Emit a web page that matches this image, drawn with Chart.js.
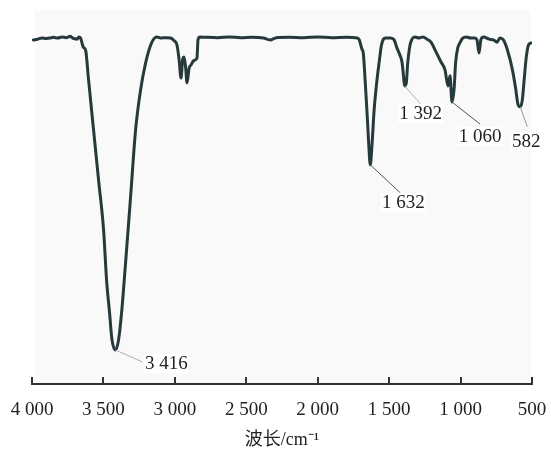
<!DOCTYPE html>
<html>
<head>
<meta charset="utf-8">
<title>FT-IR</title>
<script src="https://cdn.jsdelivr.net/npm/chart.js@4.4.1/dist/chart.umd.min.js"></script>
<style>
  html, body { margin: 0; padding: 0; background: #fff; }
  #chart { display: block; }
</style>
</head>
<body>
<canvas id="chart" width="551" height="456"></canvas>
<script>
// spectrum: wavenumber (cm-1) -> transmittance (%)
const wavenumbers = [
  3990, 3960, 3930, 3900, 3874, 3850, 3820, 3790, 3760, 3734, 3715, 3700, 3685, 3672, 3660,
  3640, 3625, 3604, 3569, 3534, 3499, 3478, 3457, 3440, 3416, 3394, 3373, 3345, 3310, 3275,
  3240, 3205, 3163, 3128, 3100, 3060, 3030, 3005, 2985, 2970, 2957, 2945, 2936, 2925, 2915,
  2900, 2887, 2870, 2859, 2845, 2838, 2825, 2780, 2700, 2620, 2540, 2460, 2380, 2334, 2290,
  2200, 2100, 2000, 1900, 1800, 1740, 1720, 1709, 1690, 1681, 1667, 1653, 1642, 1632, 1620,
  1605, 1585, 1568, 1555, 1540, 1525, 1490, 1465, 1445, 1425, 1410, 1400, 1392, 1380, 1370,
  1355, 1340, 1320, 1290, 1263, 1235, 1207, 1172, 1137, 1109, 1088, 1074, 1060, 1045, 1035,
  1020, 1005, 985, 960, 930, 900, 885, 871, 858, 840, 800, 770, 745, 725, 700,
  672, 637, 616, 597, 582, 568, 555, 540, 525, 507
];
const transmittance = [
  92.0, 92.2, 92.5, 92.4, 92.5, 92.7, 92.5, 92.8, 92.6, 93.0, 92.5, 92.3, 92.2, 92.8, 92.5,
  90.0, 89.3, 81.3, 67.9, 54.5, 41.2, 27.8, 19.0, 11.8, 9.1, 11.8, 19.0, 32.4, 50.0, 67.9,
  78.6, 85.8, 91.2, 92.8, 92.5, 92.6, 92.5, 91.8, 90.6, 86.6, 81.8, 86.9, 87.4, 84.8, 80.5,
  84.5, 85.3, 86.4, 86.6, 87.2, 92.0, 92.8, 92.7, 92.6, 92.8, 92.6, 92.7, 92.5, 92.0, 92.6,
  92.7, 92.6, 92.8, 92.6, 92.7, 92.6, 92.5, 92.0, 89.5, 88.5, 80.5, 71.4, 63.5, 58.6, 63.9,
  73.3, 81.3, 86.6, 90.4, 92.2, 92.5, 92.5, 92.0, 89.8, 88.0, 86.1, 82.6, 79.7, 80.5, 85.8,
  90.4, 92.2, 92.8, 92.5, 92.8, 92.2, 91.4, 88.8, 86.1, 84.0, 79.7, 82.4, 75.4, 79.1, 85.8,
  89.8, 91.2, 92.5, 92.8, 92.5, 92.5, 92.0, 88.5, 92.0, 92.8, 92.2, 92.0, 91.4, 92.5, 92.0,
  89.3, 84.0, 79.4, 74.6, 74.1, 75.9, 81.3, 87.4, 90.6, 91.2
];

// labelled absorption bands
const peakWavenumbers = [3416, 1632, 1392, 1060, 582];

const axisTitle = '波长/cm⁻¹';

const serif = '"Liberation Serif", "Noto Sans CJK SC", serif';

// "4000" -> "4 000"
function fmtWave(n) {
  if (n < 1000) return String(n);
  return Math.floor(n / 1000) + ' ' + String(n % 1000).padStart(3, '0');
}

// light backdrop behind the plot area
const plotBackground = {
  id: 'plotBackground',
  beforeDraw(chart) {
    const {ctx, chartArea: a} = chart;
    ctx.save();
    ctx.fillStyle = '#f9f9f9';
    ctx.fillRect(a.left + 3, a.top, a.right - a.left - 4, a.bottom - a.top);
    ctx.restore();
  }
};

// tick marks pointing up into the plot
const innerTicks = {
  id: 'innerTicks',
  afterDraw(chart) {
    const x = chart.scales.x;
    const ctx = chart.ctx;
    const y0 = chart.chartArea.bottom;
    ctx.save();
    ctx.strokeStyle = '#333';
    ctx.lineWidth = 2;
    x.ticks.forEach(t => {
      const px = Math.round(x.getPixelForValue(t.value));
      ctx.beginPath();
      ctx.moveTo(px, y0);
      ctx.lineTo(px, y0 - 7);
      ctx.stroke();
    });
    ctx.restore();
  }
};

// leader line end and label centre, relative to the band minimum
const calloutStyle = [
  {line: [27, 12], text: [51, 13], color: '#b0b0b0'},
  {line: [30, 28], text: [33, 37], color: '#555'},
  {line: [16, 18], text: [16, 27], color: '#b0b0b0'},
  {line: [28, 22], text: [28, 34], color: '#555'},
  {line: [7, 20], text: [6, 34], color: '#999'}
];

const callouts = {
  id: 'callouts',
  afterDatasetsDraw(chart) {
    const {ctx, scales: {x, y}} = chart;
    ctx.save();
    ctx.font = '19px ' + serif;
    ctx.textAlign = 'center';
    ctx.textBaseline = 'middle';
    peakWavenumbers.forEach((w, i) => {
      const t = transmittance[wavenumbers.indexOf(w)];
      const px = x.getPixelForValue(w);
      const py = y.getPixelForValue(t);
      const s = calloutStyle[i];
      ctx.strokeStyle = s.color;
      ctx.lineWidth = 1;
      ctx.beginPath();
      ctx.moveTo(px, py);
      ctx.lineTo(px + s.line[0], py + s.line[1]);
      ctx.stroke();
      const label = fmtWave(w);
      const tw = ctx.measureText(label).width;
      const tx = px + s.text[0], ty = py + s.text[1];
      ctx.fillStyle = '#fff';
      ctx.fillRect(tx - tw / 2 - 1, ty - 9, tw + 2, 19);
      ctx.fillStyle = '#222';
      ctx.fillText(label, tx, ty + 1);
    });
    ctx.restore();
  }
};

new Chart(document.getElementById('chart'), {
  type: 'line',
  data: {
    labels: wavenumbers,
    datasets: [{
      data: wavenumbers.map((w, i) => ({x: w, y: transmittance[i]})),
      borderColor: '#263a3c',
      borderWidth: 3,
      borderJoinStyle: 'round',
      borderCapStyle: 'round',
      pointRadius: 0,
      cubicInterpolationMode: 'monotone',
      fill: false
    }]
  },
  options: {
    responsive: false,
    animation: false,
    devicePixelRatio: 1,
    layout: {padding: {left: 32, right: 19, top: 10, bottom: 0}},
    plugins: {
      legend: {display: false},
      tooltip: {enabled: false}
    },
    scales: {
      x: {
        type: 'linear',
        reverse: true,
        min: 500,
        max: 4000,
        grid: {display: false, drawTicks: false},
        border: {display: true, color: '#333', width: 2},
        ticks: {
          stepSize: 500,
          padding: 15,
          color: '#222',
          maxRotation: 0,
          font: {family: serif, size: 19},
          callback: v => fmtWave(v)
        },
        title: {
          display: true,
          text: axisTitle,
          color: '#222',
          font: {family: serif, size: 18},
          padding: {top: 9, bottom: 5}
        },
        // fixed axis band; edge labels may overhang into the page padding
        afterFit(scale) {
          scale.height = 72;
          scale.paddingLeft = 0;
          scale.paddingRight = 0;
        }
      },
      y: {
        display: false,
        min: 0,
        max: 100
      }
    }
  },
  plugins: [plotBackground, innerTicks, callouts]
});
</script>
</body>
</html>
